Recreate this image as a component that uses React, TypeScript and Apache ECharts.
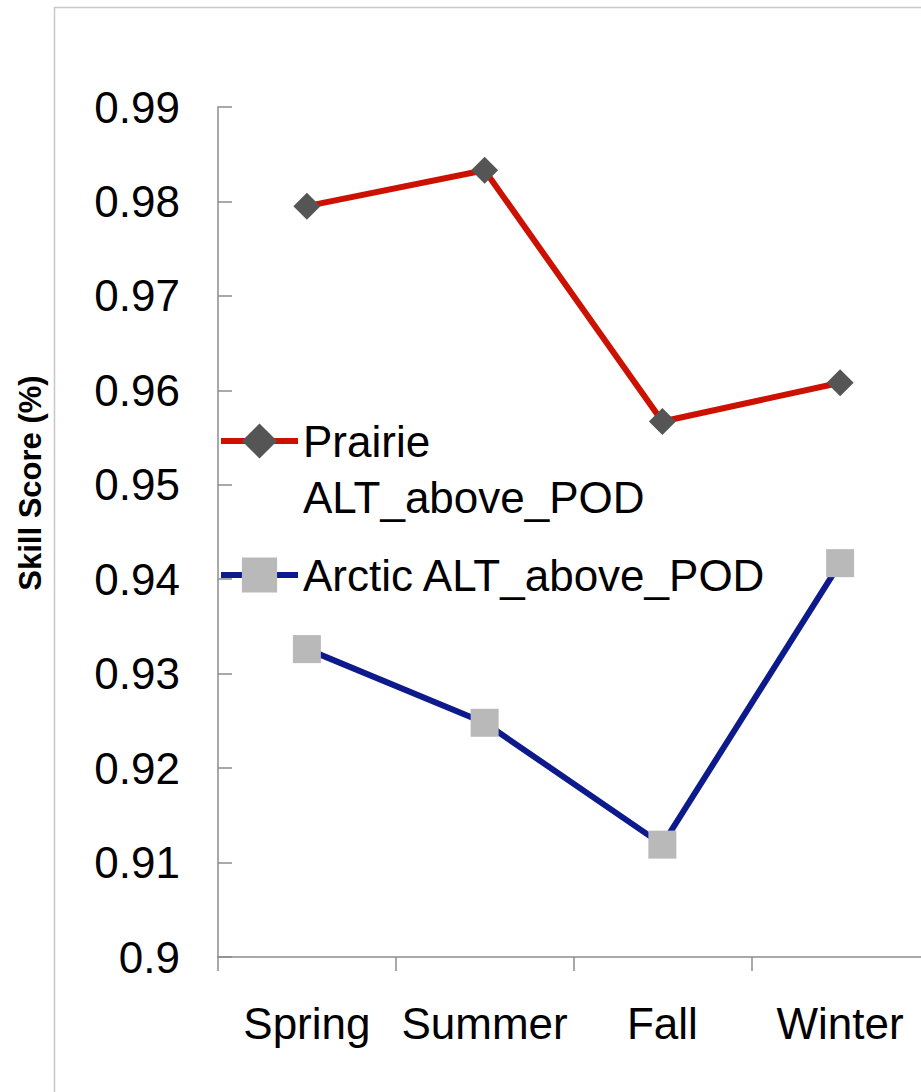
import React, { useEffect, useRef } from "react";
import * as echarts from "echarts";

const categories = ["Spring", "Summer", "Fall", "Winter"];
const prairie = [0.9795, 0.9833, 0.9567, 0.9608];
const arctic = [0.9326, 0.9248, 0.9119, 0.9417];
const yMin = 0.9;
const yMax = 0.99;
const yStep = 0.01;

const FONT = "'Liberation Sans', Arial, sans-serif";

export default function App() {
  const ref = useRef<HTMLDivElement>(null);
  useEffect(() => {
    if (!ref.current) return;
    const chart = echarts.init(ref.current, undefined, { renderer: "svg" });
    const prairieName = "Prairie\nALT_above_POD";
    const arcticName = "Arctic ALT_above_POD";
    const legendCommon = {
      orient: "vertical",
      itemWidth: 77,
      itemHeight: 44,
      itemGap: 0,
      padding: 5,
      lineStyle: { width: 6 },
    };
    chart.setOption({
      animation: false,
      backgroundColor: "#ffffff",
      textStyle: { fontFamily: FONT },
      graphic: [
        {
          type: "rect",
          shape: { x: 54.5, y: 7.5, width: 900, height: 1100 },
          style: { fill: "none", stroke: "#c8c8c8", lineWidth: 1.5 },
          silent: true,
          z: -10,
        },
        {
          type: "text",
          x: 30,
          y: 483,
          rotation: Math.PI / 2,
          style: {
            text: "Skill Score (%)",
            fontFamily: FONT,
            fontSize: 31,
            fontWeight: "bold",
            fill: "#000",
            align: "center",
            verticalAlign: "middle",
          },
        },
      ],
      legend: [
        {
          ...legendCommon,
          data: [prairieName],
          left: 213,
          top: 352,
          formatter: (name: string) => " \n" + name,
          textStyle: { fontFamily: FONT, fontSize: 44, color: "#000", lineHeight: 56 },
        },
        {
          ...legendCommon,
          data: [arcticName],
          left: 213,
          top: 542,
          textStyle: { fontFamily: FONT, fontSize: 44, color: "#000", lineHeight: 56 },
        },
      ],
      grid: { left: 218, top: 107, width: 711, height: 850, containLabel: false },
      xAxis: {
        type: "category",
        data: categories,
        boundaryGap: true,
        axisLine: { lineStyle: { color: "#8c8c8c", width: 1.5 } },
        axisTick: {
          show: true,
          interval: 0,
          length: 14,
          inside: false,
          lineStyle: { color: "#8c8c8c", width: 1.5 },
        },
        axisLabel: { interval: 0, fontFamily: FONT, fontSize: 44, color: "#000", margin: 44 },
        splitLine: { show: false },
      },
      yAxis: {
        type: "value",
        min: yMin,
        max: yMax,
        interval: yStep,
        axisLine: { show: true, lineStyle: { color: "#8c8c8c", width: 1.5 } },
        axisTick: { show: true, length: 14, inside: true, lineStyle: { color: "#8c8c8c", width: 1.5 } },
        axisLabel: {
          fontFamily: FONT,
          fontSize: 44,
          color: "#000",
          margin: 38,
          formatter: (v: number) => String(parseFloat(v.toFixed(2))),
        },
        splitLine: { show: false },
      },
      series: [
        {
          name: prairieName,
          type: "line",
          data: prairie,
          symbol: "diamond",
          symbolSize: 27,
          lineStyle: { color: "#cc1100", width: 6 },
          itemStyle: { color: "#555555" },
          color: "#cc1100",
        },
        {
          name: arcticName,
          type: "line",
          data: arctic,
          symbol: "rect",
          symbolSize: 28,
          lineStyle: { color: "#0c1a8c", width: 6 },
          itemStyle: { color: "#b9b9b9" },
          color: "#0c1a8c",
        },
      ],
    });
    return () => chart.dispose();
  }, []);
  return (
    <div style={{ position: "fixed", left: 0, top: 0, width: 921, height: 1092, overflow: "hidden" }}>
      <div ref={ref} style={{ width: 960, height: 1092 }} />
    </div>
  );
}
